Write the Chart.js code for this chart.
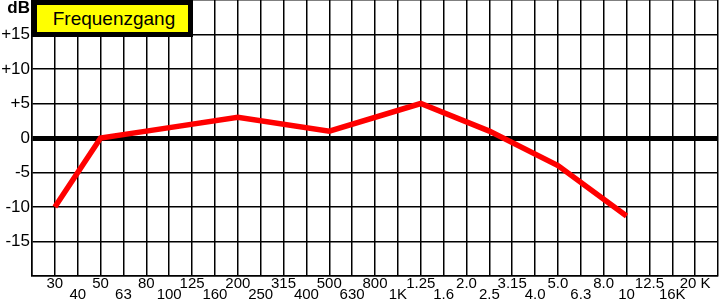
<!DOCTYPE html>
<html>
<head>
<meta charset="utf-8">
<script src="https://cdn.jsdelivr.net/npm/chart.js@4/dist/chart.umd.min.js"></script>
<style>
  html, body { margin: 0; padding: 0; background: #fff; }
  #wrap { position: relative; width: 719px; height: 300px; }
  #legendBox {
    position: absolute; left: 32px; top: 0px; width: 161px; height: 37px;
    box-sizing: border-box; border: 5px solid #000; background: #ffff00;
    font-family: "Liberation Sans", Arial, sans-serif; font-size: 19px; color: #000;
    display: flex; align-items: center; justify-content: center; padding-left: 3px;
  }
</style>
</head>
<body>
<div id="wrap">
  <canvas id="c" width="719" height="300"></canvas>
  <div id="legendBox">Frequenzgang</div>
</div>
<script>
const categories = ['30','40','50','63','80','100','125','160','200','250','315','400','500','630','800','1K','1.25','1.6','2.0','2.5','3.15','4.0','5.0','6.3','8.0','10','12.5','16K','20 K'];
const pointFreqs = ['30','50','80','200','500','1.25','2.5','5.0','10'];
const dbValues = [-10, 0, 1, 3, 1, 5, 1, -4, -11.3];
const yTickValues = [15, 10, 5, 0, -5, -10, -15];
const yTickLabels = ['+15', '+10', '+5', '0', '-5', '-10', '-15'];
const yUnit = 'dB';
const seriesName = 'Frequenzgang';

const FONT = '"Liberation Sans", Arial, sans-serif';

const points = pointFreqs.map((f, i) => ({ x: categories.indexOf(f), y: dbValues[i] }));

const dbPlugin = {
  id: 'dbLabel',
  afterDraw(chart) {
    const ctx = chart.ctx;
    ctx.save();
    ctx.font = 'bold 17px ' + FONT;
    ctx.fillStyle = '#000';
    ctx.textAlign = 'right';
    ctx.textBaseline = 'alphabetic';
    ctx.fillText(yUnit, 30, 12.5);
    ctx.restore();
  }
};

new Chart(document.getElementById('c'), {
  type: 'line',
  data: {
    datasets: [{
      label: seriesName,
      data: points,
      borderColor: '#ff0000',
      borderWidth: 5.5,
      borderJoinStyle: 'miter',
      borderCapStyle: 'butt',
      tension: 0,
      pointRadius: 0,
      fill: false
    }]
  },
  options: {
    responsive: false,
    animation: false,
    layout: { padding: { left: 0, right: 1, top: 0, bottom: 0 } },
    plugins: { legend: { display: false }, tooltip: { enabled: false } },
    scales: {
      x: {
        type: 'linear',
        min: -1,
        max: 29,
        afterFit(s) { s.height = 24; s.paddingLeft = 0; s.paddingRight = 0; },
        border: { display: true, color: '#000', width: 1.5 },
        grid: { color: '#000', lineWidth: 1.5, drawTicks: false },
        ticks: {
          stepSize: 1,
          autoSkip: false,
          maxRotation: 0,
          minRotation: 0,
          padding: 2,
          color: '#000',
          font: { family: FONT, size: 15, lineHeight: 0.75 },
          callback(v) {
            const i = Math.round(v);
            if (i < 0 || i >= categories.length) return '';
            return i % 2 === 0 ? [categories[i], ''] : ['', categories[i]];
          }
        }
      },
      y: {
        type: 'linear',
        min: -20,
        max: 20,
        afterFit(s) { s.width = 32; s.paddingTop = 0; s.paddingBottom = 0; },
        border: { display: true, color: '#000', width: 1.5 },
        grid: {
          color: '#000',
          drawTicks: false,
          lineWidth: (ctx) => (ctx.tick && ctx.tick.value === 0 ? 5 : 1.5)
        },
        ticks: {
          stepSize: 5,
          padding: 2,
          color: '#000',
          font: { family: FONT, size: 17 },
          callback(v) {
            const i = yTickValues.indexOf(v);
            return i >= 0 ? yTickLabels[i] : '';
          }
        }
      }
    }
  },
  plugins: [dbPlugin]
});
</script>
</body>
</html>
